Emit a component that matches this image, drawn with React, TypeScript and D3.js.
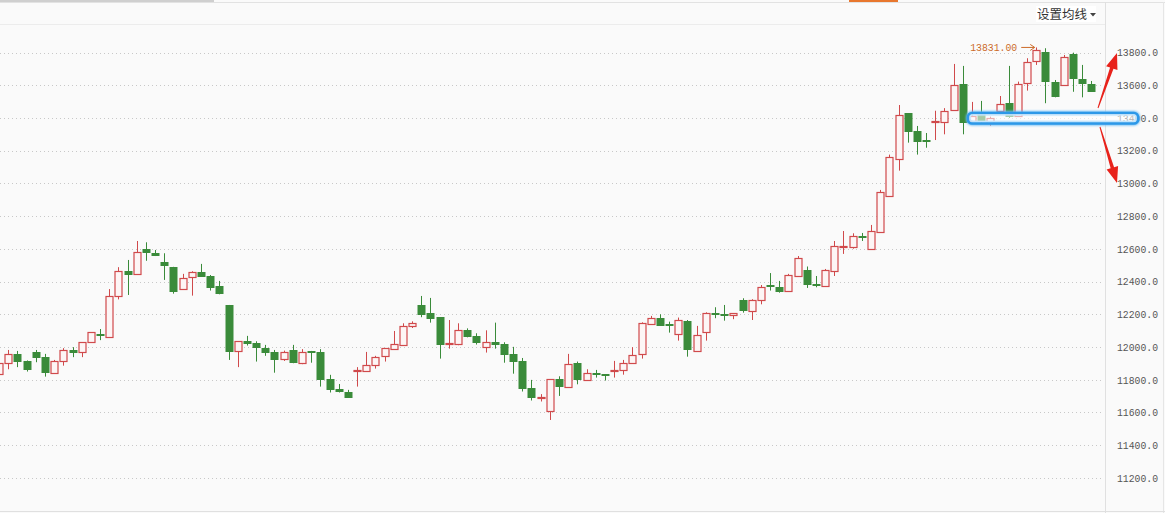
import React from "react";
import * as d3 from "d3";

const W = 1165;
const H = 513;

// OHLC values (index 0 = leftmost, partially visible candle)
const opens = [
  11836, 11901, 11956, 11915, 11970, 11940, 11843, 11913, 11980, 11968,
  12029, 12077, 12064, 12311, 12464, 12444, 12598, 12575, 12520, 12490,
  12353, 12426, 12459, 12434, 12375, 12257, 11974, 12037, 12023, 11995,
  11970, 11925, 11980, 11901, 11976, 11970, 11803, 11744, 11726, 11854,
  11852, 11889, 11944, 11990, 12015, 12131, 12257, 12207, 12183, 12017,
  12019, 12102, 12066, 11999, 12031, 12019, 11958, 11915, 11750, 11687,
  11611, 11803, 11758, 11901, 11801, 11840, 11834, 11852, 11858, 11901,
  11956, 12139, 12176, 12139, 12077, 12157, 11974, 12090, 12208, 12202,
  12194, 12288, 12218, 12286, 12379, 12365, 12341, 12436, 12471, 12386,
  12375, 12467, 12612, 12614, 12681, 12601, 12705, 12921, 13147, 13430,
  13320, 13265, 13374, 13377, 13447, 13608, 13381, 13428, 13367, 13443,
  13490, 13412, 13612, 13748, 13805, 13622, 13601, 13791, 13636, 13606,
];
const highs = [
  11901, 11982, 11976, 11918, 11982, 11958, 11921, 11993, 11999, 12029,
  12090, 12110, 12354, 12488, 12532, 12648, 12640, 12593, 12573, 12490,
  12447, 12463, 12508, 12440, 12404, 12257, 12035, 12068, 12035, 12013,
  11982, 11978, 12013, 11987, 11976, 11987, 11830, 11774, 11738, 11877,
  11970, 11946, 11993, 12098, 12145, 12157, 12312, 12300, 12183, 12165,
  12145, 12114, 12084, 12102, 12149, 12029, 12001, 11933, 11799, 11712,
  11803, 11821, 11958, 11911, 11864, 11860, 11834, 11915, 11921, 11999,
  12151, 12190, 12200, 12155, 12180, 12165, 12129, 12212, 12243, 12257,
  12207, 12298, 12292, 12379, 12452, 12404, 12447, 12556, 12492, 12434,
  12477, 12648, 12709, 12695, 12697, 12746, 12960, 13176, 13479, 13430,
  13351, 13308, 13444, 13460, 13730, 13718, 13498, 13504, 13408, 13534,
  13718, 13622, 13765, 13831, 13826, 13632, 13785, 13799, 13724, 13626,
];
const lows = [
  11836, 11864, 11877, 11850, 11907, 11819, 11839, 11886, 11938, 11938,
  12029, 12042, 12064, 12291, 12318, 12444, 12527, 12556, 12410, 12326,
  12353, 12314, 12432, 12345, 12322, 11921, 11877, 12009, 11911, 11946,
  11843, 11915, 11901, 11895, 11904, 11758, 11722, 11722, 11691, 11758,
  11852, 11868, 11911, 11984, 12015, 12116, 12182, 12149, 11929, 11990,
  12011, 12059, 12015, 11966, 11990, 11904, 11837, 11728, 11673, 11667,
  11554, 11701, 11758, 11772, 11801, 11813, 11795, 11813, 11831, 11901,
  11929, 12139, 12131, 12088, 12039, 11941, 11974, 12039, 12176, 12161,
  12170, 12210, 12165, 12261, 12345, 12332, 12341, 12430, 12361, 12365,
  12375, 12434, 12569, 12601, 12648, 12601, 12699, 12921, 13078, 13249,
  13176, 13218, 13265, 13300, 13447, 13300, 13369, 13367, 13353, 13420,
  13400, 13412, 13567, 13724, 13490, 13526, 13601, 13560, 13526, 13567,
];
const closes = [
  11901, 11956, 11917, 11868, 11941, 11850, 11915, 11980, 11972, 12029,
  12090, 12071, 12311, 12464, 12449, 12579, 12579, 12565, 12500, 12345,
  12421, 12457, 12436, 12369, 12328, 11978, 12035, 12025, 11999, 11970,
  11929, 11970, 11911, 11970, 11970, 11807, 11746, 11730, 11697, 11860,
  11889, 11938, 11993, 12019, 12127, 12145, 12204, 12180, 12020, 12025,
  12102, 12069, 12033, 12029, 12017, 11960, 11917, 11752, 11697, 11695,
  11803, 11762, 11895, 11807, 11840, 11834, 11828, 11860, 11901, 11954,
  12145, 12176, 12137, 12135, 12163, 11987, 12072, 12207, 12200, 12194,
  12207, 12228, 12286, 12365, 12371, 12345, 12439, 12542, 12388, 12378,
  12471, 12616, 12620, 12677, 12671, 12707, 12946, 13160, 13416, 13322,
  13261, 13259, 13380, 13443, 13600, 13377, 13412, 13385, 13398, 13484,
  13412, 13606, 13740, 13815, 13626, 13536, 13771, 13642, 13612, 13567,
];

const yTicks = [11200, 11400, 11600, 11800, 12000, 12200, 12400, 12600, 12800, 13000, 13200, 13400, 13600, 13800];
const highLabel = "13831.00";
const menuLabel = "设置均线";

const RED = "#d0494b";
const GREEN = "#3a8b3a";
const ORANGE = "#cc6a28";
const ARROW_RED = "#e8221b";

function Arrow({ x1, y1, x2, y2 }: { x1: number; y1: number; x2: number; y2: number }) {
  const dx = x2 - x1;
  const dy = y2 - y1;
  const len = Math.hypot(dx, dy);
  const ux = dx / len;
  const uy = dy / len;
  const px = -uy;
  const py = ux;
  const headLen = 16;
  const headW = 6;
  const bx = x2 - ux * headLen;
  const by = y2 - uy * headLen;
  const pts: [number, number][] = [
    [x1 + px * 0.5, y1 + py * 0.5],
    [bx + px * 1.8, by + py * 1.8],
    [bx + px * headW, by + py * headW],
    [x2, y2],
    [bx - px * headW, by - py * headW],
    [bx - px * 1.8, by - py * 1.8],
    [x1 - px * 0.5, y1 - py * 0.5],
  ];
  return <polygon points={pts.map((p) => p.join(",")).join(" ")} fill={ARROW_RED} />;
}

export default function App() {
  const n = opens.length;
  const x = d3.scaleLinear().domain([0, n - 1]).range([-0.9, 1091.3]);
  const y = d3.scaleLinear().domain([11200, 13800]).range([477.9, 52.5]);
  const bodyW = 7;
  const mono = "'Liberation Mono', 'DejaVu Sans Mono', monospace";

  const candles = d3.range(n).map((i) => {
    const cx = Math.round(x(i)) + 0.5;
    const o = opens[i];
    const c = closes[i];
    const up = c >= o;
    const color = up ? RED : GREEN;
    const top = Math.round(y(Math.max(o, c)));
    const bot = Math.round(y(Math.min(o, c)));
    const h = Math.max(bot - top, 1);
    return (
      <g key={i}>
        <line x1={cx} x2={cx} y1={y(highs[i])} y2={y(lows[i])} stroke={color} strokeWidth={1} />
        {up ? (
          <rect x={cx - bodyW / 2} y={top + 0.5} width={bodyW} height={h} fill="#fdf5f5" stroke={color} strokeWidth={1.2} />
        ) : (
          <rect x={cx - bodyW / 2 - 0.5} y={top} width={bodyW + 1} height={h + 1} fill={color} />
        )}
      </g>
    );
  });

  const hiIdx = highs.indexOf(d3.max(highs) as number);
  const hiX = x(hiIdx);
  const hiY = y(highs[hiIdx]);
  const boxY = y(13400);

  return (
    <svg width={W} height={H} style={{ position: "fixed", left: 0, top: 0, background: "#fafafa" }}>
      <defs>
        <filter id="glow" x="-10%" y="-100%" width="120%" height="300%">
          <feGaussianBlur stdDeviation="0.8" />
        </filter>
      </defs>
      <rect x={0} y={0} width={W} height={H} fill="#fafafa" />
      {/* top chrome */}
      <line x1={0} x2={W} y1={2.5} y2={2.5} stroke="#e2e2e2" />
      <rect x={0} y={0} width={214} height={2} fill="#cfcfcf" />
      <rect x={849} y={0} width={49} height={2} fill="#e8772e" />
      <line x1={0} x2={1105} y1={24.5} y2={24.5} stroke="#ececec" />
      <line x1={1105.5} x2={1105.5} y1={2} y2={H} stroke="#e0e0e0" />
      <line x1={1163.5} x2={1163.5} y1={2} y2={H} stroke="#e6e6e6" />
      <line x1={0} x2={W} y1={511.5} y2={511.5} stroke="#e0e0e0" />

      {/* grid */}
      {yTicks.map((t) => (
        <line key={t} x1={0} x2={1103} y1={Math.round(y(t)) + 0.5} y2={Math.round(y(t)) + 0.5} stroke="#c8c8c8" strokeDasharray="1 3" />
      ))}
      {/* axis labels */}
      {yTicks.map((t) => (
        <text key={t} x={1117} y={y(t)} dy="0.36em" fontFamily={mono} fontSize={10.5} fill="#555" textLength={41} lengthAdjust="spacingAndGlyphs">
          {t.toFixed(1)}
        </text>
      ))}

      {/* menu */}
      <rect x={1036} y={6} width={60} height={16} fill="#ffffff" />
      <text x={1037} y={19} fontFamily="'Noto Sans CJK SC', sans-serif" fontSize={12.5} fill="#333">
        {menuLabel}
      </text>
      <path d="M1090,13 L1096,13 L1093,16.5 Z" fill="#444" />

      {candles}

      {/* max label */}
      <text x={hiX - 66} y={hiY} dy="0.36em" fontFamily={mono} fontSize={10.5} fill={ORANGE} textLength={47} lengthAdjust="spacingAndGlyphs">
        {highLabel}
      </text>
      <line x1={hiX - 15} x2={hiX - 2} y1={hiY} y2={hiY} stroke={ORANGE} strokeWidth={1} />
      <path d={`M${hiX - 6},${hiY - 3} L${hiX - 1.5},${hiY} L${hiX - 6},${hiY + 3}`} fill="none" stroke={ORANGE} strokeWidth={1} />

      {/* highlight box */}
      <rect x={968} y={boxY - 5} width={170} height={10.5} rx={4} fill="none" stroke="#6cbcf5" strokeWidth={4} filter="url(#glow)" />
      <rect x={968} y={boxY - 5} width={170} height={10.5} rx={4} fill="rgba(255,255,255,0.55)" stroke="#2c98e8" strokeWidth={2.6} />
      <rect x={970} y={boxY - 3} width={166} height={6.5} rx={3} fill="none" stroke="#c3e4fb" strokeWidth={1.2} />

      {/* red arrows */}
      <Arrow x1={1098} y1={108} x2={1117} y2={53} />
      <Arrow x1={1100} y1={127} x2={1117} y2={183} />
    </svg>
  );
}
